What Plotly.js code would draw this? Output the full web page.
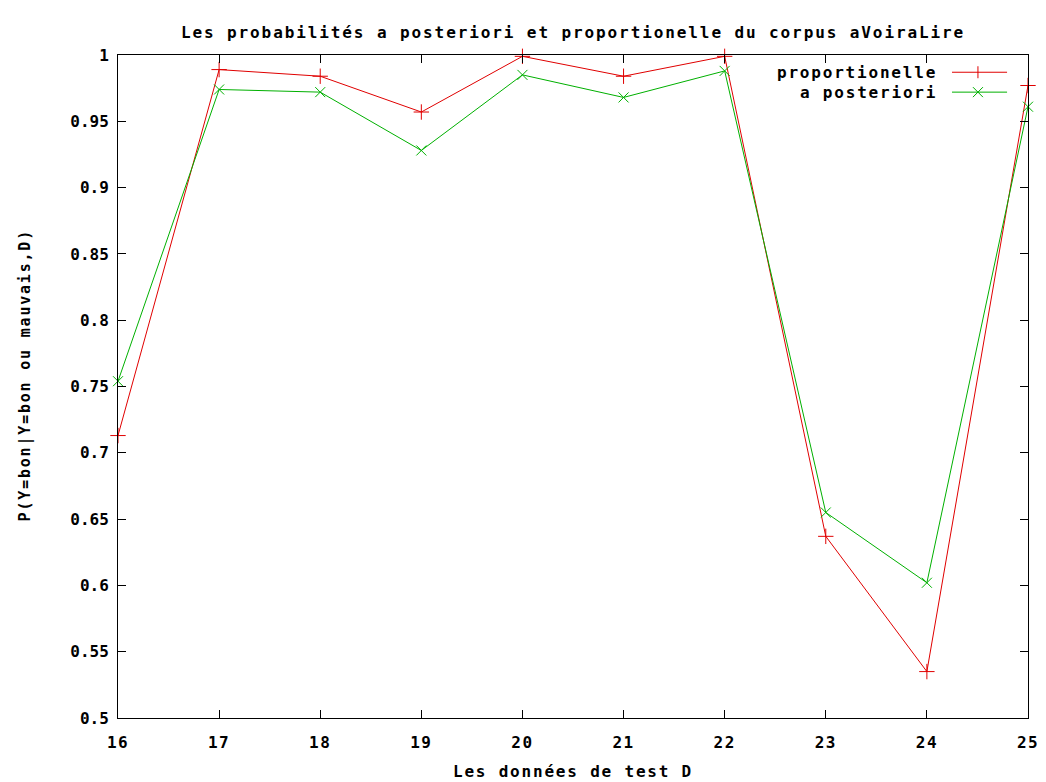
<!DOCTYPE html>
<html>
<head>
<meta charset="utf-8">
<script src="https://cdn.plot.ly/plotly-3.0.1.min.js"></script>
<style>
html,body{margin:0;padding:0;background:#fff;}
#chart{width:1046px;height:782px;}
svg text{letter-spacing:1.5px;}
svg .gtitle{letter-spacing:1.9px;}
svg .annotation-text{letter-spacing:1.8px;}
svg .xtitle{letter-spacing:1.8px;}
svg .ytick text{letter-spacing:0px;}
</style>
</head>
<body>
<div id="chart"></div>
<script>
// Data
var testIds = [16, 17, 18, 19, 20, 21, 22, 23, 24, 25];
var proportionelle = [0.713, 0.989, 0.984, 0.957, 0.999, 0.984, 0.999, 0.637, 0.535, 0.977];
var aPosteriori = [0.754, 0.974, 0.972, 0.928, 0.985, 0.968, 0.988, 0.655, 0.602, 0.961];
var seriesNames = ['proportionelle', 'a posteriori'];
var xTickVals = [16, 17, 18, 19, 20, 21, 22, 23, 24, 25];
var xTickText = ['16', '17', '18', '19', '20', '21', '22', '23', '24', '25'];
var yTickVals = [0.5, 0.55, 0.6, 0.65, 0.7, 0.75, 0.8, 0.85, 0.9, 0.95, 1];
var yTickText = ['0.5', '0.55', '0.6', '0.65', '0.7', '0.75', '0.8', '0.85', '0.9', '0.95', '1'];
var yTitle = 'P(Y=bon|Y=bon ou mauvais,D)';

var RED = '#e00000';
var GREEN = '#00b000';
var FONT = 'DejaVu Sans Mono, monospace';

var traces = [
  {
    x: testIds, y: proportionelle, name: seriesNames[0], type: 'scatter', mode: 'lines+markers',
    line: {color: RED, width: 1},
    marker: {symbol: 'cross-thin-open', size: 11, color: RED, line: {color: RED, width: 1}},
    showlegend: false, cliponaxis: false
  },
  {
    x: testIds, y: aPosteriori, name: seriesNames[1], type: 'scatter', mode: 'lines+markers',
    line: {color: GREEN, width: 1},
    marker: {symbol: 'x-thin-open', size: 10, color: GREEN, line: {color: GREEN, width: 1}},
    showlegend: false, cliponaxis: false
  }
];

// Custom legend (text left of the sample, as in gnuplot)
var legX = 0.902, legLine0 = 0.9165, legLine1 = 0.977, legMark = 0.945;
var legY = [0.974, 0.944];
var legColors = [RED, GREEN];
var annotations = [];
var shapes = [];
for (var i = 0; i < 2; i++) {
  annotations.push({
    xref: 'paper', yref: 'paper', x: legX, y: legY[i], xanchor: 'right', yanchor: 'middle',
    text: seriesNames[i], showarrow: false,
    font: {family: FONT, size: 16, color: '#000', weight: 'bold'}
  });
  shapes.push({
    type: 'line', xref: 'paper', yref: 'paper', x0: legLine0, x1: legLine1, y0: legY[i], y1: legY[i],
    line: {color: legColors[i], width: 1}
  });
}
// y axis title as rotated annotation (placed like gnuplot's)
annotations.push({
  xref: 'paper', yref: 'paper', x: -0.102, y: 0.517, xanchor: 'center', yanchor: 'middle',
  textangle: -90, text: yTitle, showarrow: false,
  font: {family: FONT, size: 15, color: '#000', weight: 'bold'}
});
// legend marker glyphs
shapes.push({type: 'line', xref: 'paper', yref: 'paper', xsizemode: 'pixel', ysizemode: 'pixel',
  xanchor: legMark, yanchor: legY[0], x0: 0, x1: 0, y0: -6, y1: 6, line: {color: RED, width: 1}});
shapes.push({type: 'line', xref: 'paper', yref: 'paper', xsizemode: 'pixel', ysizemode: 'pixel',
  xanchor: legMark, yanchor: legY[1], x0: -5, x1: 5, y0: -5, y1: 5, line: {color: GREEN, width: 1}});
shapes.push({type: 'line', xref: 'paper', yref: 'paper', xsizemode: 'pixel', ysizemode: 'pixel',
  xanchor: legMark, yanchor: legY[1], x0: -5, x1: 5, y0: 5, y1: -5, line: {color: GREEN, width: 1}});

var layout = {
  width: 1046, height: 782,
  margin: {l: 118, r: 18, t: 55, b: 64},
  paper_bgcolor: '#fff', plot_bgcolor: '#fff',
  font: {family: FONT, size: 15, color: '#000', weight: 'bold'},
  title: {
    text: 'Les probabilités a posteriori et proportionelle du corpus aVoiraLire',
    font: {family: FONT, size: 16, color: '#000', weight: 'bold'},
    x: 0.5, xref: 'paper', xanchor: 'center', y: 0.958, yref: 'container', yanchor: 'middle'
  },
  xaxis: {
    range: [16, 25], tickvals: xTickVals, ticktext: xTickText,
    ticks: 'inside', ticklen: 8, tickcolor: '#000', tickwidth: 1,
    showline: true, linecolor: '#000', linewidth: 1, mirror: 'ticks',
    showgrid: false, zeroline: false, ticklabelstandoff: 10,
    tickfont: {family: FONT, size: 16, color: '#000', weight: 'bold'},
    title: {text: 'Les données de test D', standoff: 14,
      font: {family: FONT, size: 16, color: '#000', weight: 'bold'}}
  },
  yaxis: {
    range: [0.5, 1], tickvals: yTickVals, ticktext: yTickText,
    ticks: 'inside', ticklen: 8, tickcolor: '#000', tickwidth: 1,
    showline: true, linecolor: '#000', linewidth: 1, mirror: 'ticks',
    showgrid: false, zeroline: false, ticklabelstandoff: 5,
    tickfont: {family: FONT, size: 16, color: '#000', weight: 'bold'}
  },
  annotations: annotations,
  shapes: shapes,
  showlegend: false
};

Plotly.newPlot('chart', traces, layout, {displayModeBar: false, staticPlot: true});
</script>
</body>
</html>
